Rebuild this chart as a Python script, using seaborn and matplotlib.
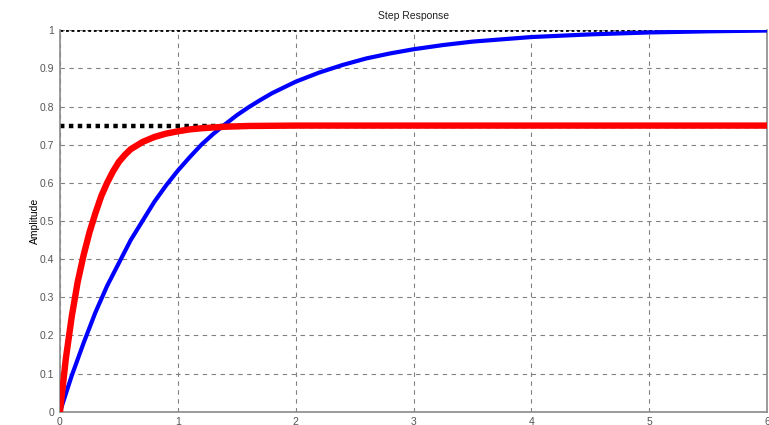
import pandas as pd
import matplotlib
matplotlib.use("Agg")
import matplotlib.pyplot as plt
import seaborn as sns

blue_t = [0, 0.1, 0.2, 0.3, 0.4, 0.5, 0.6, 0.7, 0.8, 0.9, 1.0, 1.1, 1.2, 1.3, 1.4,
          1.5, 1.6, 1.7, 1.8, 1.9, 2.0, 2.2, 2.4, 2.6, 2.8, 3.0, 3.25, 3.5, 3.75,
          4.0, 4.5, 5.0, 5.5, 6.0]
blue_y = [0, 0.095, 0.18, 0.26, 0.33, 0.39, 0.45, 0.50, 0.55, 0.593, 0.632, 0.667,
          0.70, 0.728, 0.753, 0.777, 0.798, 0.817, 0.835, 0.85, 0.865, 0.889,
          0.909, 0.926, 0.939, 0.95, 0.961, 0.97, 0.976, 0.982, 0.989, 0.994,
          0.997, 0.999]

red_t = [0, 0.05, 0.1, 0.15, 0.2, 0.25, 0.3, 0.35, 0.4, 0.45, 0.5, 0.55, 0.6,
         0.7, 0.8, 0.9, 1.0, 1.1, 1.2, 1.4, 1.6, 2.0, 3.0, 4.0, 5.0, 6.0]
red_y = [0, 0.14, 0.25, 0.34, 0.41, 0.47, 0.52, 0.565, 0.60, 0.63, 0.655, 0.673,
         0.688, 0.707, 0.72, 0.729, 0.735, 0.740, 0.743, 0.747, 0.749, 0.75,
         0.75, 0.75, 0.75, 0.75]

final_blue = 1.0
final_red = 0.75

x_ticks = [0, 1, 2, 3, 4, 5, 6]
y_ticks = [0, 0.1, 0.2, 0.3, 0.4, 0.5, 0.6, 0.7, 0.8, 0.9, 1]
y_labels = ["0", "0.1", "0.2", "0.3", "0.4", "0.5", "0.6", "0.7", "0.8", "0.9", "1"]


def main():
    sns.set_style("white")
    plt.rcParams["font.family"] = ["Liberation Sans", "DejaVu Sans"]

    blue = pd.DataFrame({"t": blue_t, "y": blue_y})
    red = pd.DataFrame({"t": red_t, "y": red_y})

    fig = plt.figure(figsize=(7.69, 4.25), dpi=100)
    ax = fig.add_axes([0.078, 0.031, 0.9195, 0.898])

    ax.axhline(final_blue, color="black", lw=2.0, ls=(0, (1, 1)), zorder=2)
    ax.axhline(final_red, color="black", lw=3.2, ls=(0, (1, 1)), zorder=2)

    sns.lineplot(data=blue, x="t", y="y", ax=ax, color="#0000ff", lw=3.0,
                 estimator=None, sort=False, zorder=3)
    sns.lineplot(data=red, x="t", y="y", ax=ax, color="#ff0000", lw=4.6,
                 estimator=None, sort=False, zorder=4)

    ax.set_xlim(0, 6)
    ax.set_ylim(0, 1)
    ax.set_xticks(x_ticks)
    ax.set_yticks(y_ticks)
    ax.set_yticklabels(y_labels)
    ax.grid(True, color="#808080", lw=0.8, ls=(0, (4, 4)))
    ax.tick_params(direction="in", length=3, colors="#808080", labelsize=7.5,
                   labelcolor="#555555", pad=4)

    for side in ["left", "bottom", "right"]:
        ax.spines[side].set_color("#8a8a8a")
        ax.spines[side].set_linewidth(1.2)
    ax.spines["top"].set_visible(False)

    ax.set_title("Step Response", fontsize=7.5, color="#222222", pad=8)
    ax.set_ylabel("Amplitude", fontsize=7.5, color="black", labelpad=0)
    ax.set_xlabel("")

    fig.savefig("out.png", dpi=100)
    plt.close(fig)


if __name__ == "__main__":
    main()
